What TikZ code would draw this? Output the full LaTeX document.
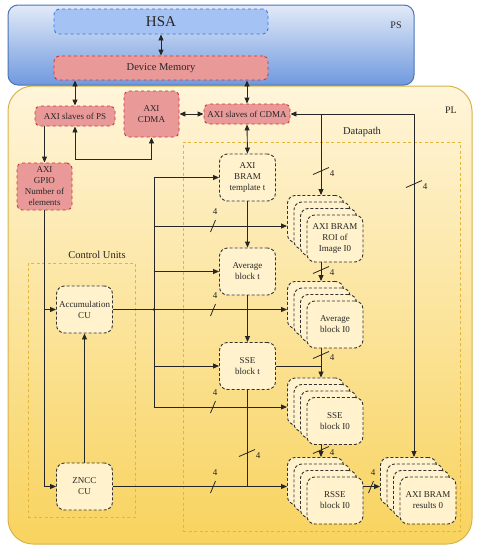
\documentclass[tikz,border=0pt]{standalone}
\usepackage{fontspec}
\setmainfont{Liberation Serif}
\usetikzlibrary{arrows.meta,calc}
\definecolor{psTop}{HTML}{E2EAF8}
\definecolor{psBot}{HTML}{6F99DE}
\definecolor{psLine}{HTML}{4D74B5}
\definecolor{plTop}{HTML}{FFF5DA}
\definecolor{plBot}{HTML}{F8D35E}
\definecolor{plLine}{HTML}{D9B34A}
\definecolor{hsaFill}{HTML}{A4C2F4}
\definecolor{hsaLine}{HTML}{3C78D8}
\definecolor{redFill}{HTML}{EA9999}
\definecolor{redLine}{HTML}{CC3333}
\definecolor{cream}{HTML}{FFF2CC}
\definecolor{grpLine}{HTML}{E3B53A}
\newcommand\mkstack[4]{%
  \node[blk, anchor=north west] (#1b) at (#2,#3) {};
  \node[blk, anchor=north west] (#1c) at (#2+6.5,#3+6.5) {};
  \node[blk, anchor=north west] (#1d) at (#2+13,#3+13) {};
  \node[blk, anchor=north west] (#1f) at (#2+19.5,#3+19.5) {#4};
}
\newcommand\mkhcut[3]{%
  \draw[cut] (#1-2.5,#2+6) -- (#1+2.5,#2-6);
  \node[num] (#3) at (#1+2,#2-14) {4};
}
\newcommand\mkvcut[3]{%
  \draw[cut] (#1-8,#2+3.5) -- (#1+8,#2-3.5);
  \node[num] (#3) at (#1+11,#2+3) {4};
}
\begin{document}
\begin{tikzpicture}[x=1pt,y=-1pt,
  >={Triangle[length=6pt,width=5pt]},
  every node/.style={font=\fontsize{9}{11}\selectfont, text=black!85, align=center},
  rednode/.style={draw=redLine, fill=redFill, dashed, line width=0.9pt, rounded corners=5pt, inner sep=1pt},
  blk/.style={draw=black!80, fill=cream, dash pattern=on 3pt off 2pt, line width=0.9pt, rounded corners=8pt, minimum width=56pt, minimum height=47pt, inner sep=1pt},
  grp/.style={draw=grpLine, dash pattern=on 3pt off 2.5pt, line width=0.8pt, inner sep=0},
  conn/.style={line width=0.9pt, draw=black!85},
  cut/.style={line width=0.8pt, draw=black!85},
  num/.style={font=\fontsize{9}{10}\selectfont},
  lbl/.style={font=\fontsize{10.5}{12}\selectfont},
]
\useasboundingbox (0,0) rectangle (479,550);

% containers
\node[draw=plLine, line width=1pt, rounded corners=25pt, top color=plTop, bottom color=plBot, minimum width=464pt, minimum height=458pt, inner sep=0] (pl) at (240,315) {};
\node[draw=psLine, line width=1pt, rounded corners=10pt, top color=psTop, bottom color=psBot, minimum width=406pt, minimum height=80pt, inner sep=0] (ps) at (211,45) {};
\node[font=\fontsize{10}{12}\selectfont] (pslbl) at (396,25) {PS};
\node[font=\fontsize{10}{12}\selectfont] (pllbl) at (451,110) {PL};

\node[grp, minimum width=277pt, minimum height=389pt] (dp) at (321.5,336.5) {};
\node[grp, minimum width=107pt, minimum height=254pt] (cu) at (81.5,390) {};
\node[lbl] (dplbl) at (362,132) {Datapath};
\node[lbl] (culbl) at (97,255) {Control Units};

% PS nodes
\node[draw=hsaLine, fill=hsaFill, dashed, line width=0.9pt, rounded corners=5pt, minimum width=214pt, minimum height=25pt, font=\fontsize{15}{16}\selectfont] (hsa) at (161,21.5) {HSA};
\node[rednode, minimum width=214pt, minimum height=24pt, font=\fontsize{10.5}{12}\selectfont] (dm) at (161,68) {Device Memory};

% PL red nodes
\node[rednode, minimum width=80pt, minimum height=20pt] (sps) at (75,116) {AXI slaves of PS};
\node[rednode, minimum width=55pt, minimum height=46pt] (cdma) at (151.5,114) {AXI\\CDMA};
\node[rednode, minimum width=86pt, minimum height=20pt] (scdma) at (247,114) {AXI slaves of CDMA};
\node[rednode, minimum width=55pt, minimum height=47pt] (gpio) at (44.5,186.5) {AXI\\GPIO\\Number of\\elements};

% datapath single nodes
\node[blk] (tmpl) at (247.5,177.5) {AXI\\BRAM\\template t};
\node[blk] (avgt) at (247.5,271.5) {Average\\block t};
\node[blk] (sset) at (247.5,366) {SSE\\block t};

% control units
\node[blk] (acc) at (84.5,309.5) {Accumulation\\CU};
\node[blk] (znc) at (84.5,486.5) {ZNCC\\CU};

% stacks
\mkstack{roi}{287}{195}{AXI BRAM\\ROI of\\Image I0}
\mkstack{avg}{287}{281}{Average\\block I0}
\mkstack{sse}{287}{377.5}{SSE\\block I0}
\mkstack{rsse}{287}{457}{RSSE\\block I0}
\mkstack{res}{380}{457}{AXI BRAM\\results 0}

% coordinates
\coordinate (j1) at (75,159);
\coordinate (r1) at (414,114);
\coordinate (c321) at (321,114);
\coordinate (bx) at (154,114);
\coordinate (broi) at (154,226);
\coordinate (bsse) at (154,407);

% PS connectors
\draw[conn,<->] (hsa) -- (dm);
\draw[conn,<->] (dm.south -| sps.north) -- (sps.north);
\draw[conn,<->] (dm.south -| scdma.north) -- (scdma.north);
\draw[conn,<->] (cdma.east) -- (scdma.west);
\draw[conn,<->] (sps.south) -- (j1) -| (cdma.south);
\draw[conn,->] (sps.south -| gpio.north) -- (gpio.north);
\draw[conn,<->] (scdma.south) -- (tmpl.north);
\draw[conn,<->] (scdma.east) -- (r1) -- (r1 |- resb.north);
\draw[conn,->] (c321) -- (c321 |- roib.north);

% bus
\draw[conn] (bx |- tmpl.west) -- (bsse);
\draw[conn,->] (bx |- tmpl.west) -- (tmpl.west);
\draw[conn,->] (broi) -- (broi -| roib.west);
\draw[conn,->] (bx |- avgt.west) -- (avgt.west);
\draw[conn,->] (acc.east) -- (acc.east -| avgb.west);
\draw[conn,->] (bx |- sset.west) -- (sset.west);
\draw[conn,->] (bsse) -- (bsse -| sseb.west);
\fill[black!85] (bx |- acc.east) circle (1.4pt);

% datapath chain
\draw[conn,->] (tmpl) -- (avgt);
\draw[conn,->] (avgt) -- (sset);
\draw[conn,->] (c321 |- roif.south) -- (c321 |- avgb.north);
\draw[conn,->] (c321 |- avgf.south) -- (c321 |- sseb.north);
\draw[conn] (sset.east) -- (c321 |- sset.east);
\draw[conn,->] (c321 |- ssef.south) -- (c321 |- rsseb.north);
\draw[conn] (sset.south) -- (sset.south |- znc.east);
\draw[conn,->] (znc.east) -- (znc.east -| rsseb.west);
\draw[conn,->] (rssef.east |- znc.east) -- (resb.west |- znc.east);

% control connectors
\draw[conn,->] (gpio.south) |- (znc.west);
\draw[conn,->] (gpio.south |- acc.west) -- (acc.west);
\draw[conn,->] (znc) -- (acc);

% bus-width marks
\mkhcut{213}{226}{n1}
\mkhcut{213}{310}{n2}
\mkhcut{213}{407}{n3}
\mkhcut{213}{487}{n4}
\mkhcut{371}{487}{n5}
\mkvcut{321}{171}{n6}
\mkvcut{414}{184}{n7}
\mkvcut{321}{270}{n8}
\mkvcut{321}{355}{n9}
\mkvcut{321}{450}{n10}
\mkvcut{247}{453}{n11}
\end{tikzpicture}
\end{document}
